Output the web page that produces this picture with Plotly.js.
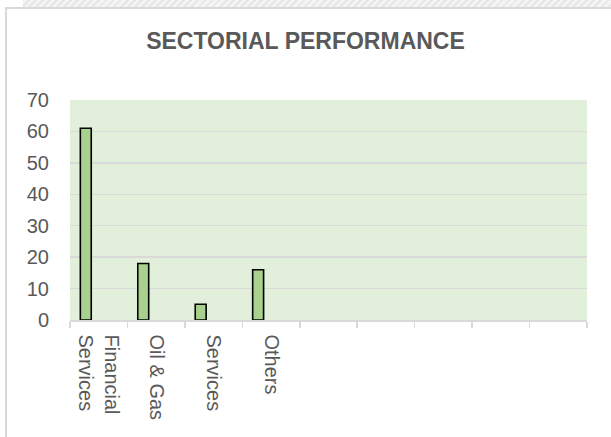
<!DOCTYPE html>
<html>
<head>
<meta charset="utf-8">
<script src="https://cdn.plot.ly/plotly-3.0.1.min.js"></script>
<style>
html,body{margin:0;padding:0;background:#ffffff;overflow:hidden;}
#strip{position:absolute;left:23px;top:0;width:600px;height:7px;
background:repeating-linear-gradient(135deg,#f4f4f4 0 3px,#e6e6e6 3px 5px);}
#frame{position:absolute;left:5px;top:7px;width:620px;height:440px;
border-left:2px solid #d9d9d9;border-top:2px solid #d9d9d9;background:#fff;}
#chart{position:absolute;left:-7px;top:-9px;width:611px;height:437px;}
</style>
</head>
<body>
<div id="strip"></div>
<div id="frame"><div id="chart"></div></div>
<script>
const categories = ["Financial<br>Services", "Oil & Gas", "Services", "Others", " ", "  ", "   ", "    ", "     "];
const values = [61, 18, 5, 16, null, null, null, null, null];
const yTicks = [0, 10, 20, 30, 40, 50, 60, 70];
const titleText = "SECTORIAL PERFORMANCE";

const trace = {
  type: "bar",
  x: categories,
  y: values,
  width: 0.19,
  offset: -0.32,
  marker: {color: "#a9d18e", line: {color: "#000000", width: 1.6}},
  hoverinfo: "x+y"
};

const layout = {
  width: 611, height: 437,
  margin: {l: 70, r: 24, t: 100, b: 117},
  paper_bgcolor: "rgba(0,0,0,0)",
  plot_bgcolor: "#e2efda",
  showlegend: false,
  title: {
    text: "<b>" + titleText + "</b>",
    font: {family: "Liberation Sans Narrow, Arial Narrow, Liberation Sans, sans-serif", size: 23, color: "#595959"},
    x: 0.5, xanchor: "center", y: 0.906, yanchor: "middle"
  },
  xaxis: {
    type: "category",
    categoryorder: "array",
    categoryarray: categories,
    range: [-0.5, 8.5],
    tickson: "boundaries",
    ticks: "outside",
    ticklen: 6,
    tickwidth: 1.5,
    tickcolor: "#d9d9d9",
    tickangle: 90,
    showline: true,
    linecolor: "#d9d9d9",
    linewidth: 1.5,
    showgrid: false,
    tickfont: {family: "Liberation Sans, Arial, sans-serif", size: 20, color: "#595959"},
    ticklabelstandoff: 9,
    fixedrange: true
  },
  yaxis: {
    range: [0, 70],
    tickvals: yTicks,
    ticktext: yTicks.map(String),
    showgrid: true,
    gridcolor: "#d9d9d9",
    gridwidth: 1.5,
    zeroline: false,
    showline: false,
    ticks: "",
    tickfont: {family: "Liberation Sans, Arial, sans-serif", size: 20, color: "#595959"},
    ticklabelstandoff: 20,
    fixedrange: true
  },
  bargap: 0.2
};

Plotly.newPlot("chart", [trace], layout, {displayModeBar: false, staticPlot: true});
</script>
</body>
</html>
